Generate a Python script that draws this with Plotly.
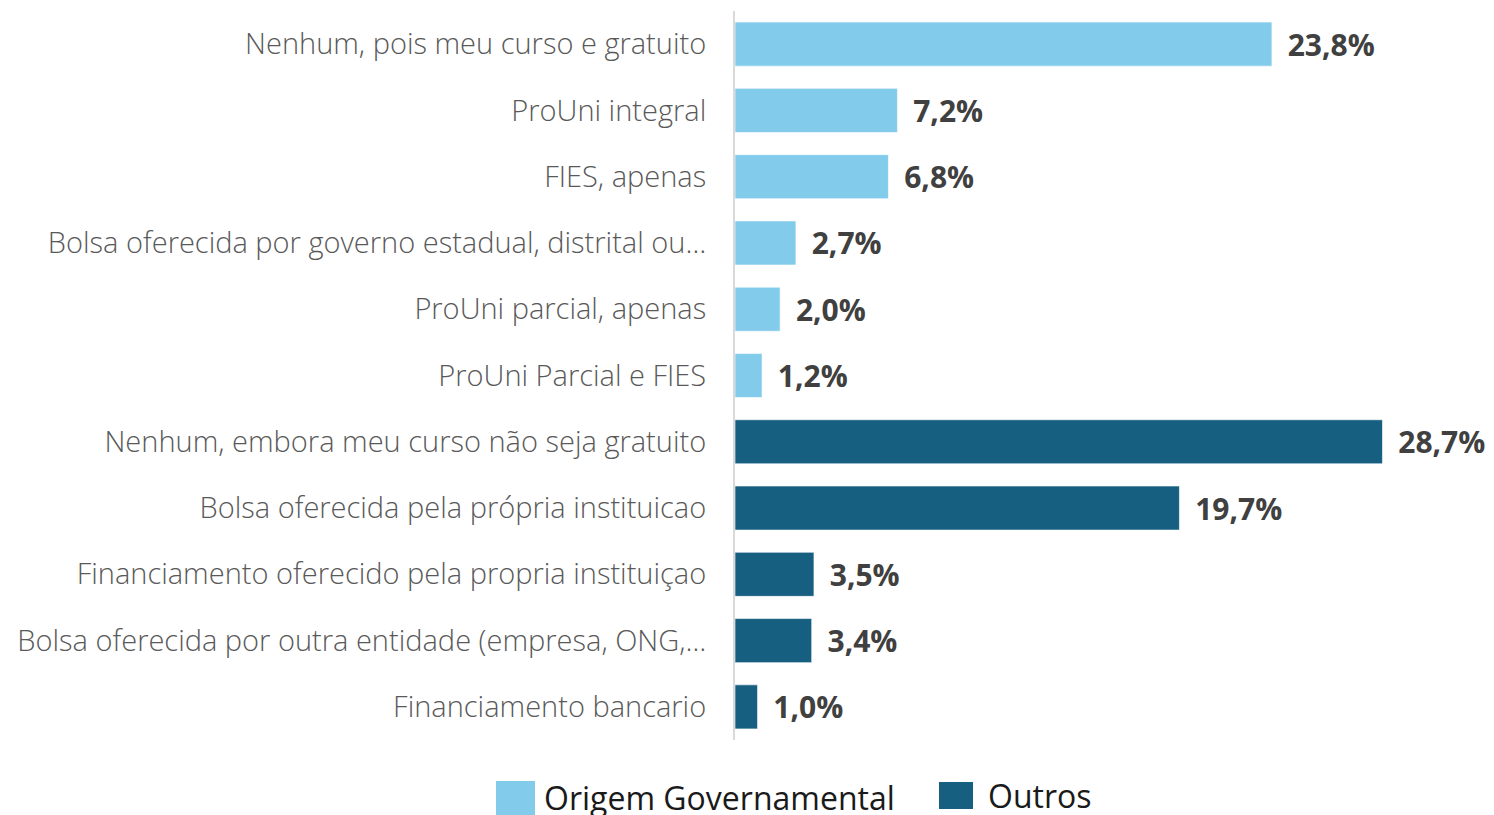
import plotly.graph_objects as go

categories = [
    "Nenhum, pois meu curso e gratuito",
    "ProUni integral",
    "FIES, apenas",
    "Bolsa oferecida por governo estadual, distrital ou…",
    "ProUni parcial, apenas",
    "ProUni Parcial e FIES",
    "Nenhum, embora meu curso não seja gratuito",
    "Bolsa oferecida pela própria instituicao",
    "Financiamento oferecido pela propria instituiçao",
    "Bolsa oferecida por outra entidade (empresa, ONG,…",
    "Financiamento bancario",
]
gov_values = [23.8, 7.2, 6.8, 2.7, 2.0, 1.2, None, None, None, None, None]
outros_values = [None, None, None, None, None, None, 28.7, 19.7, 3.5, 3.4, 1.0]
series_names = ["Origem Governamental", "Outros"]
colors = ["#82CBEA", "#175F80"]

W, H = 1494, 815
ML, MR, MT, MB = 727, 0, 3, 83
PW, PH = W - ML - MR, H - MT - MB


def fmt(v):
    if v is None:
        return ""
    return "\u00a0\u2009" + f"{v:.1f}".replace(".", ",") + "%"


def px(x):
    return (x - ML) / PW


def py(y):
    return (H - MB - y) / PH


fig = go.Figure()
for name, vals, col in zip(series_names, [gov_values, outros_values], colors):
    fig.add_trace(go.Bar(
        y=categories, x=vals, orientation="h", name=name,
        marker=dict(color=col, line=dict(color="rgba(255,255,255,0.6)", width=1)),
        text=[fmt(v) for v in vals], textposition="outside",
        textfont=dict(family="Open Sans", size=30, color="#404040", weight="bold"),
        cliponaxis=False, constraintext="none", width=0.665, showlegend=False,
    ))

# legend (layout decoration)
legend_boxes = [(488, 773, 527, 815), (931, 774, 965, 801)]
legend_text = [(534, 789), (978, 787)]
shapes, annotations = [], []
for (x0, y0, x1, y1), (tx, ty), name, col in zip(legend_boxes, legend_text, series_names, colors):
    shapes.append(dict(type="rect", xref="paper", yref="paper",
                       x0=px(x0), x1=px(x1), y0=py(y1), y1=py(y0),
                       fillcolor=col, line=dict(width=0)))
    annotations.append(dict(xref="paper", yref="paper", x=px(tx), y=py(ty),
                            xanchor="left", yanchor="middle", showarrow=False,
                            text=name, font=dict(family="Open Sans", size=32, color="#1a1a1a")))

fig.update_layout(
    width=W, height=H,
    barmode="overlay",
    plot_bgcolor="white", paper_bgcolor="white",
    margin=dict(l=ML, r=MR, t=MT, b=MB, autoexpand=False),
    font=dict(family="Open Sans", color="#595959"),
    xaxis=dict(range=[0, PW / 22.56], visible=False, showgrid=False, zeroline=False),
    yaxis=dict(autorange="reversed", showline=True, linecolor="#d9d9d9", linewidth=2,
               ticks="", showgrid=False, ticklabelstandoff=21, automargin=False,
               tickfont=dict(family="Open Sans", size=29, color="#595959", weight=300)),
    shapes=shapes, annotations=annotations,
    showlegend=False,
)

fig.write_html("out.html")
